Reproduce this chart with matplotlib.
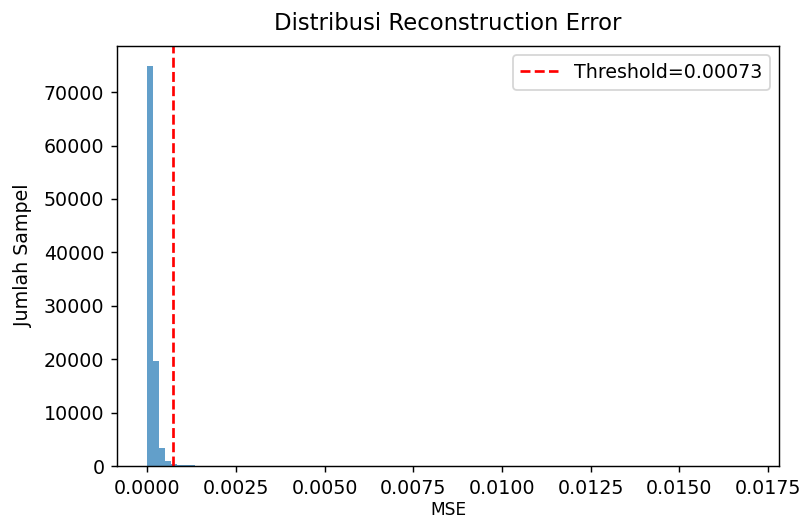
import matplotlib
matplotlib.use("Agg")
import matplotlib.pyplot as plt
import numpy as np

# Histogram of reconstruction error (MSE), 100 bins
mse_min = 0.0
mse_max = 0.01696
n_bins = 100
counts = [74900, 19570, 3320, 850, 380, 260, 190, 130, 90, 40,
          25, 15, 10, 8, 6, 5, 4, 3, 3, 2,
          2, 2, 1, 1, 1, 1, 1, 1, 0, 1,
          0, 1, 0, 0, 1, 0, 0, 1, 0, 0,
          1, 0, 0, 0, 1, 0, 0, 0, 0, 1,
          0, 0, 0, 0, 0, 1, 0, 0, 0, 0,
          0, 0, 1, 0, 0, 0, 0, 0, 0, 0,
          0, 0, 0, 0, 1, 0, 0, 0, 0, 0,
          0, 0, 0, 0, 0, 0, 0, 0, 0, 0,
          0, 0, 0, 0, 0, 0, 0, 0, 0, 1]
threshold = 0.00073

title = "Distribusi Reconstruction Error"
xlabel = "MSE"
ylabel = "Jumlah Sampel"
legend_label = f"Threshold={threshold:.5f}"

plt.rcParams["font.size"] = 10.6

edges = np.linspace(mse_min, mse_max, n_bins + 1)
lefts = edges[:-1]

fig = plt.figure(figsize=(800 / 129, 521 / 129), dpi=129)
ax = fig.add_axes([117 / 800, 1 - 466 / 521, (779 - 117) / 800, (466 - 46) / 521])
ax.hist(lefts, bins=edges, weights=counts, alpha=0.7)
ax.axvline(threshold, color="red", linestyle="--", label=legend_label)
ax.set_title(title, pad=9)
ax.set_xlabel(xlabel, fontsize=9.5, labelpad=2)
ax.set_ylabel(ylabel, labelpad=6)
ax.legend(loc="upper right")
fig.savefig("out.png", dpi=129)
